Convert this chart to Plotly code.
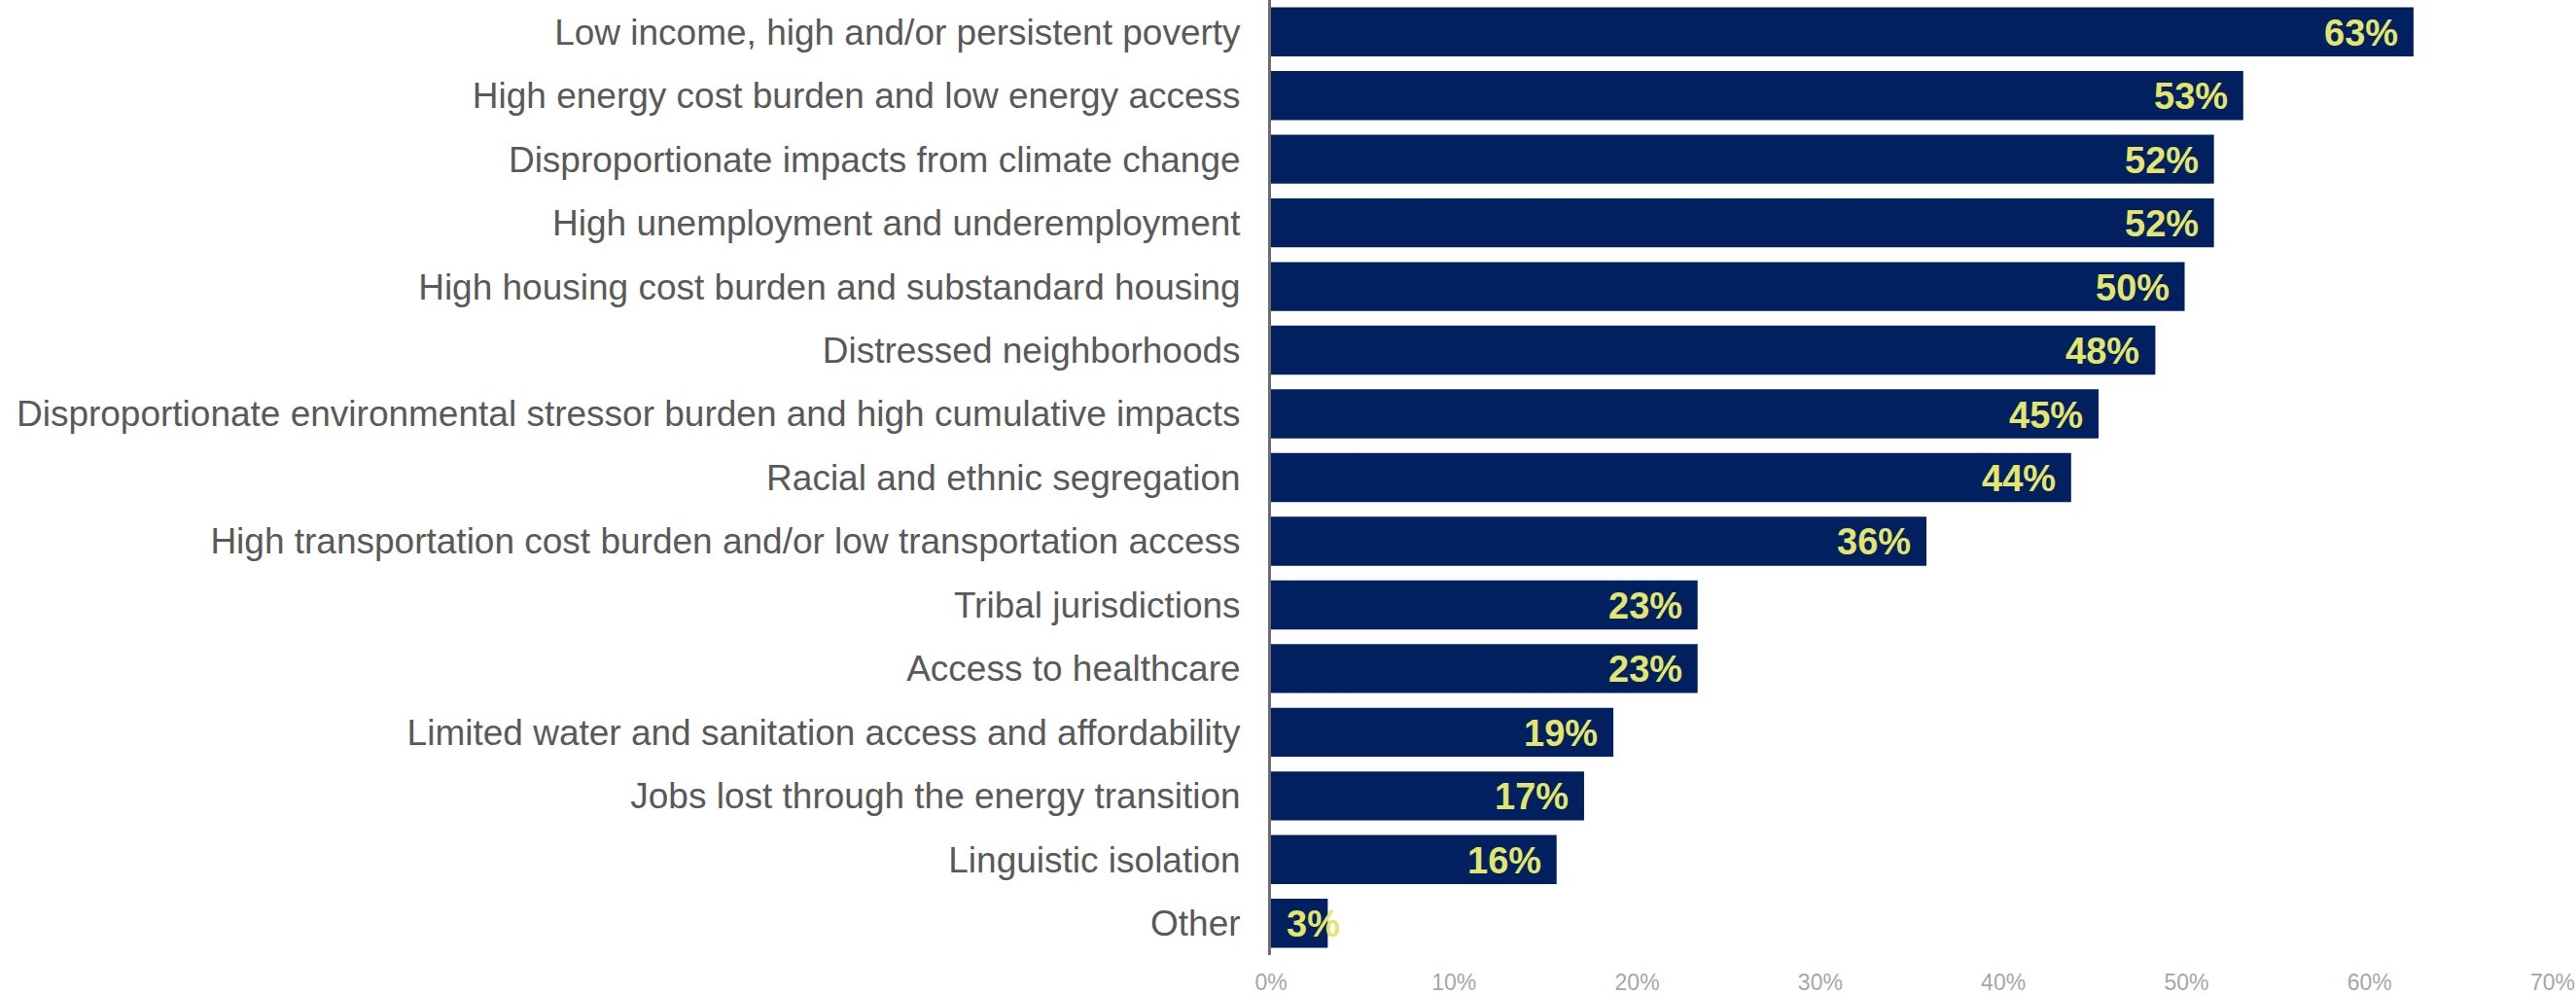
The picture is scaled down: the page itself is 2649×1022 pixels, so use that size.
import plotly.graph_objects as go

categories = [
    "Low income, high and/or persistent poverty",
    "High energy cost burden and low energy access",
    "Disproportionate impacts from climate change",
    "High unemployment and underemployment",
    "High housing cost burden and substandard housing",
    "Distressed neighborhoods",
    "Disproportionate environmental stressor burden and high cumulative impacts",
    "Racial and ethnic segregation",
    "High transportation cost burden and/or low transportation access",
    "Tribal jurisdictions",
    "Access to healthcare",
    "Limited water and sanitation access and affordability",
    "Jobs lost through the energy transition",
    "Linguistic isolation",
    "Other",
]
values = [62.4, 53.1, 51.5, 51.5, 49.9, 48.3, 45.2, 43.7, 35.8, 23.3, 23.3, 18.7, 17.1, 15.6, 3.1]
labels = ["63%", "53%", "52%", "52%", "50%", "48%", "45%", "44%", "36%", "23%", "23%", "19%", "17%", "16%", "3%"]
tick_vals = [0, 10, 20, 30, 40, 50, 60, 70]
tick_text = ["0%", "10%", "20%", "30%", "40%", "50%", "60%", "70%"]

fig = go.Figure(go.Bar(
    y=categories,
    x=values,
    orientation="h",
    marker=dict(color="#002060", line=dict(width=0)),
    hoverinfo="skip",
))

label_font = dict(family="Liberation Sans, Arial, sans-serif", size=38, color="#e3e56c", weight="bold")
for cat, val, lab in zip(categories, values, labels):
    small = val < 5
    fig.add_annotation(
        x=0 if small else val,
        y=cat,
        xref="x",
        yref="y",
        text=lab,
        showarrow=False,
        xanchor="left" if small else "right",
        xshift=14 if small else -14,
        yshift=-1,
        font=label_font,
    )

fig.update_layout(
    width=2649,
    height=1022,
    margin=dict(l=1307, r=24, t=0, b=40, autoexpand=False),
    plot_bgcolor="white",
    paper_bgcolor="white",
    bargap=0.23,
    showlegend=False,
    font=dict(family="Liberation Sans, Arial, sans-serif"),
)
fig.update_xaxes(
    range=[0, 70],
    tickvals=tick_vals,
    ticktext=tick_text,
    showgrid=False,
    zeroline=False,
    showline=False,
    ticks="",
    ticklabelstandoff=12,
    ticklabeloverflow="allow",
    tickfont=dict(size=23, color="#a6a6a6"),
    automargin=False,
)
fig.update_yaxes(
    categoryorder="array",
    categoryarray=categories,
    autorange="reversed",
    showgrid=False,
    showline=True,
    linecolor="#6d6d6d",
    linewidth=3,
    ticks="",
    ticklabelstandoff=21,
    tickfont=dict(size=37, color="#595959"),
    automargin=False,
)

fig.write_html("out.html")
